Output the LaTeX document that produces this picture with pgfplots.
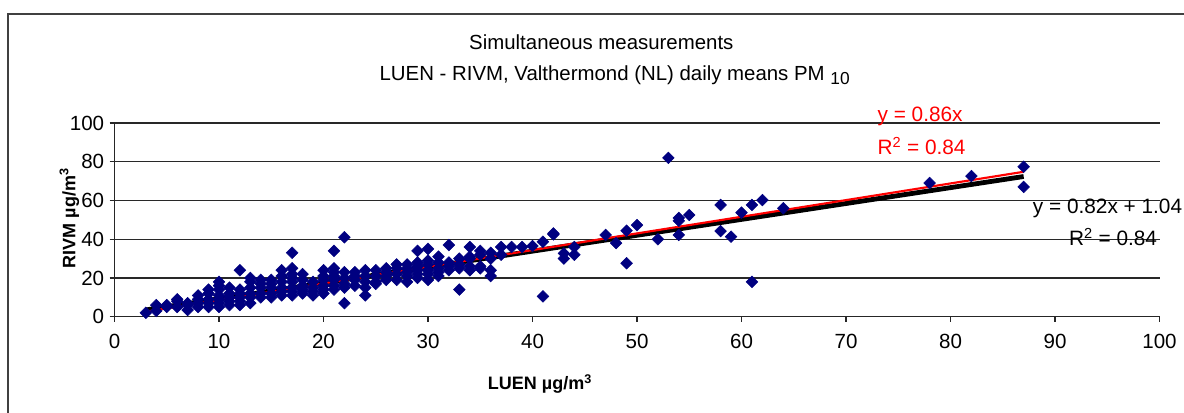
\documentclass[border=0pt]{standalone}
\usepackage{pgfplots}
\pgfplotsset{compat=1.18}
\usepackage{fontspec}
\setmainfont{Liberation Sans}
\definecolor{navy}{RGB}{0,0,128}
\definecolor{gridc}{RGB}{40,40,40}
\begin{document}
\begin{tikzpicture}
\useasboundingbox (0pt,0pt) rectangle (888pt,-309pt);
\begin{scope}
\clip (0pt,0pt) rectangle (888pt,-309pt);
\draw[line width=1.8pt, black!75] (6pt,-10.5pt) rectangle (900pt,-330pt);
\end{scope}
\begin{axis}[
  at={(85.875pt,-237.525pt)}, anchor=south west,
  scale only axis, width=783.75pt, height=145.275pt,
  xmin=0, xmax=100, ymin=0, ymax=100,
  xtick={0,10,...,100}, ytick={0,20,...,100},
  axis x line=bottom, axis y line=left,
  axis line style={-, line width=0.9pt, black!85},
  tick align=outside, major tick length=3.75pt,
  tick style={line width=0.8pt, black!85},
  ymajorgrids, grid style={line width=0.8pt, gridc},
  tick label style={font=\fontsize{15.4}{16}\selectfont},
  /pgf/number format/assume math mode=true,
  xticklabel style={yshift=-6pt},
  yticklabel style={xshift=-0.5pt},
  clip=false,
]
\addplot[only marks, mark=square*, mark size=3.1pt, mark options={rotate=45, fill=navy, draw=navy}] coordinates {
(3,2) (4,3) (4,6) (5,5) (5,6) (6,5) (6,8) (6,9) (7,3.5) (7,6) (7,7)
(8,5) (8,7) (8,9) (8,11) (9,5) (9,7) (9,9) (9,12) (9,14)
(10,5) (10,7) (10,9) (10,11) (10,14) (10,16) (10,18)
(11,6) (11,8) (11,10) (11,12) (11,15)
(12,6) (12,8) (12,10) (12,12) (12,14) (12,24)
(13,7) (13,10) (13,12) (13,15) (13,18) (13,20)
(14,10) (14,12) (14,15) (14,17) (14,19)
(15,10) (15,12) (15,15) (15,17) (15,19)
(16,11) (16,13) (16,15) (16,18) (16,21) (16,24)
(17,11) (17,13) (17,15) (17,18) (17,20) (17,22) (17,25) (17,33)
(18,12) (18,14) (18,16) (18,19) (18,22)
(19,11) (19,13) (19,15) (19,18)
(20,12) (20,14) (20,16) (20,19) (20,21) (20,24)
(21,14) (21,16) (21,19) (21,21) (21,23) (21,25) (21,34)
(22,7) (22,15) (22,17) (22,20) (22,23) (22,41)
(23,16) (23,19) (23,21) (23,23)
(24,11) (24,15) (24,18) (24,21) (24,24)
(25,17) (25,18) (25,21) (25,24)
(26,19) (26,21) (26,23) (26,25)
(27,19) (27,22) (27,25) (27,27)
(28,18) (28,21) (28,23) (28,25) (28,27)
(29,20) (29,22) (29,24) (29,26) (29,28) (29,34)
(30,19) (30,22) (30,24) (30,27) (30,29) (30,35)
(31,21) (31,23) (31,25) (31,28) (31,31)
(32,24) (32,26) (32,28) (32,37)
(33,14) (33,25) (33,27) (33,30)
(34,24) (34,26) (34,30) (34,31) (34,36)
(35,25) (35,26) (35,32) (35,34)
(36,21) (36,24) (36,30) (36,33)
(37,32) (37,36) (38,36) (39,36) (40,36.5) (41,10.5) (41,38.7)
(42,42.5) (42,43) (43,30) (43,32.7) (44,32) (44,36)
(47,42.2) (48,38) (49,27.6) (49,44.4) (50,47.3) (52,40) (53,82)
(54,42.2) (54,49.5) (54,51) (55,52.5) (58,44.2) (58,57.7) (59,41.3)
(60,53.7) (61,18) (61,57.7) (62,60.2) (64,56) (78,69) (82,72.6)
(87,67) (87,77.4)
};
\addplot[black, line width=3.6pt] coordinates {(3,3.50) (87,72.38)};
\addplot[red, line width=1.6pt] coordinates {(3,2.58) (87,74.82)};
\end{axis}
% titles
\node[font=\fontsize{15.3}{18}\selectfont] at (451pt,-31.5pt) {Simultaneous measurements};
\node[font=\fontsize{15.3}{18}\selectfont] at (461pt,-56.5pt) {LUEN - RIVM, Valthermond (NL) daily means PM {\fontsize{13}{13}\selectfont\raisebox{-0.45ex}{10}}};
% axis titles
\node[font=\bfseries\fontsize{13.5}{16}\selectfont] at (405pt,-288pt) {LUEN µg/m\textsuperscript{3}};
\node[font=\bfseries\fontsize{13.5}{16}\selectfont, rotate=90] at (52pt,-163.5pt) {RIVM µg/m\textsuperscript{3}};
% fit equations
\node[font=\fontsize{15.6}{18}\selectfont, text=red, anchor=west, inner sep=0pt] at (658pt,-87.5pt) {y = 0.86x};
\node[font=\fontsize{15.6}{18}\selectfont, text=red, anchor=west, inner sep=0pt] at (658pt,-109.5pt) {R\textsuperscript{2} = 0.84};
\node[font=\fontsize{15.6}{18}\selectfont, anchor=west, inner sep=0pt] at (774.5pt,-156pt) {y = 0.82x + 1.04};
\node[font=\fontsize{15.6}{18}\selectfont, anchor=east, inner sep=0pt] at (868pt,-178pt) {R\textsuperscript{2} = 0.84};
\end{tikzpicture}
\end{document}
